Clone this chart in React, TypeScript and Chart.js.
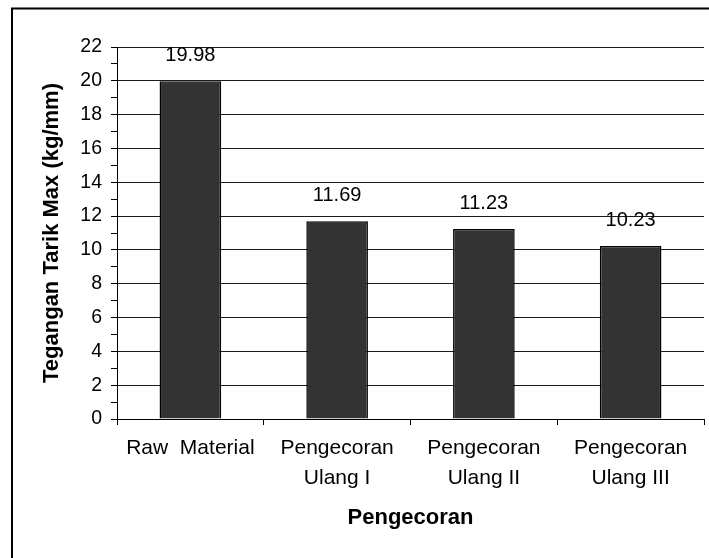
import React, { useEffect, useRef } from "react";
import { Chart, registerables } from "chart.js";

Chart.register(...registerables);

const categories: (string | string[])[] = [
  "Raw  Material",
  ["Pengecoran", "Ulang I"],
  ["Pengecoran", "Ulang II"],
  ["Pengecoran", "Ulang III"],
];
const values: number[] = [19.98, 11.69, 11.23, 10.23];
const valueLabels: string[] = ["19.98", "11.69", "11.23", "10.23"];
const yMin = 0;
const yMax = 22;
const yTitle = "Tegangan Tarik Max (kg/mm)";
const xTitle = "Pengecoran";

const FONT = "'Liberation Sans', Arial, Helvetica, sans-serif";

const framePlugin = {
  id: "frame",
  afterDraw(chart: any) {
    const ctx = chart.ctx;
    ctx.save();
    ctx.strokeStyle = "#000";
    ctx.lineWidth = 2;
    ctx.beginPath();
    ctx.moveTo(12, 800);
    ctx.lineTo(12, 8.5);
    ctx.lineTo(900, 8.5);
    ctx.stroke();
    ctx.restore();
  },
};

const valueLabelPlugin = {
  id: "valueLabels",
  afterDatasetsDraw(chart: any) {
    const ctx = chart.ctx;
    const meta = chart.getDatasetMeta(0);
    ctx.save();
    ctx.font = `20px ${FONT}`;
    ctx.fillStyle = "#000";
    ctx.textAlign = "center";
    ctx.textBaseline = "middle";
    meta.data.forEach((bar: any, i: number) => {
      ctx.fillText(valueLabels[i], bar.x, bar.y - 26);
    });
    ctx.restore();
  },
};

export default function App() {
  const ref = useRef<HTMLCanvasElement>(null);
  useEffect(() => {
    if (!ref.current) return;
    const chart = new Chart(ref.current, {
      type: "bar",
      data: {
        labels: categories,
        datasets: [
          {
            data: values,
            backgroundColor: "#333333",
            borderColor: "#000",
            borderWidth: 1.5,
            barPercentage: 0.42,
            categoryPercentage: 1,
          },
        ],
      },
      options: {
        animation: false,
        responsive: false,
        devicePixelRatio: 1,
        layout: { padding: { left: 0, right: 5, top: 47, bottom: 0 } },
        plugins: { legend: { display: false }, tooltip: { enabled: false } },
        scales: {
          x: {
            afterFit(scale: any) {
              scale.height = 139;
            },
            grid: {
              display: true,
              drawOnChartArea: false,
              offset: true,
              tickLength: 6,
              tickColor: "#000",
            },
            border: { display: true, color: "#000", width: 1 },
            ticks: {
              color: "#000",
              font: { family: FONT, size: 21, lineHeight: 1.43 },
              padding: 8,
              maxRotation: 0,
              autoSkip: false,
            },
            title: {
              display: true,
              text: xTitle,
              color: "#000",
              font: { family: FONT, size: 22, weight: "bold", lineHeight: 1.2 },
              padding: { top: 0, bottom: 27 },
            },
          },
          y: {
            min: yMin,
            max: yMax,
            afterFit(scale: any) {
              scale.width = 117;
            },
            grid: {
              color: (c: any) =>
                c.tick && c.tick.value % 2 === 0 ? "#1a1a1a" : "rgba(0,0,0,0)",
              tickColor: "#000",
              tickLength: 6,
            },
            border: { display: true, color: "#000", width: 1 },
            ticks: {
              stepSize: 1,
              autoSkip: false,
              color: "#000",
              padding: 9,
              font: { family: FONT, size: 19.5 },
              callback: (v: any) => (Number(v) % 2 === 0 ? String(v) : ""),
            },
            title: {
              display: true,
              text: yTitle,
              color: "#000",
              font: { family: FONT, size: 22, weight: "bold", lineHeight: 1.2 },
              padding: { top: 39, bottom: 0 },
            },
          },
        },
      },
      plugins: [framePlugin, valueLabelPlugin],
    });
    return () => chart.destroy();
  }, []);
  return (
    <div
      style={{
        position: "absolute",
        left: 0,
        top: 0,
        width: 709,
        height: 558,
        background: "#fff",
        overflow: "hidden",
      }}
    >
      <canvas ref={ref} width={709} height={558} style={{ display: "block" }} />
    </div>
  );
}
